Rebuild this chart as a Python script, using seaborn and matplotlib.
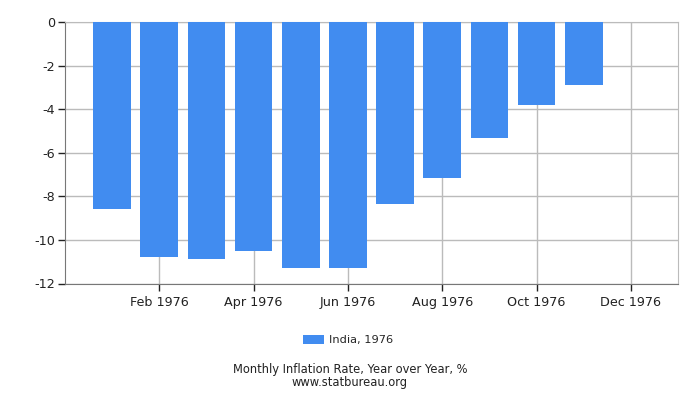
import matplotlib
matplotlib.use("Agg")
import matplotlib.pyplot as plt
import seaborn as sns
import pandas as pd

months = list(range(1, 12))
values = [-8.57, -10.77, -10.87, -10.5, -11.28, -11.28, -8.34, -7.15, -5.31, -3.80, -2.88]
tick_pos = [2, 4, 6, 8, 10, 12]
tick_labels = ["Feb 1976", "Apr 1976", "Jun 1976", "Aug 1976", "Oct 1976", "Dec 1976"]
series_name = "India, 1976"

sns.set_style("white")
plt.rcParams['font.family'] = ['DejaVu Sans']
plt.rcParams['axes.unicode_minus'] = False
plt.rcParams['xtick.bottom'] = True
plt.rcParams['ytick.left'] = True

df = pd.DataFrame({"month": months, "rate": values})

fig = plt.figure(figsize=(7, 4), dpi=100)
ax = fig.add_axes([65 / 700, 1 - 283.5 / 400, (678 - 65) / 700, (283.5 - 22) / 400])

sns.barplot(data=df, x="month", y="rate", native_scale=True, width=0.8,
            color="#418cf0", saturation=1, linewidth=0, ax=ax, label=series_name, zorder=3)

ax.set_xlim(0, 13)
ax.set_ylim(-12, 0)
ax.set_xticks(tick_pos)
ax.set_xticklabels(tick_labels)
ax.set_yticks(range(-12, 1, 2))
ax.set_xlabel("")
ax.set_ylabel("")
ax.grid(True, color="#bbbbbb", linewidth=1, zorder=0)
ax.set_axisbelow(True)

for side in ["left", "bottom"]:
    ax.spines[side].set_color("#777777")
for side in ["right", "top"]:
    ax.spines[side].set_color("#bbbbbb")
ax.tick_params(axis="both", direction="out", length=5, width=1, color="#222222",
               labelsize=9.2, labelcolor="#222222")
ax.tick_params(axis="x", pad=4)
ax.tick_params(axis="y", pad=2)

ax.legend(loc="center", bbox_to_anchor=(348 / 700, 1 - 340 / 400), bbox_transform=fig.transFigure,
          frameon=False, fontsize=8.2, handlelength=1.9, handleheight=0.9, handletextpad=0.4)

fig.text(0.5, 1 - 376 / 400, "Monthly Inflation Rate, Year over Year, %\nwww.statbureau.org",
         ha="center", va="center", fontsize=8.3, color="#222222", linespacing=0.95)

fig.savefig("out.png", dpi=100)
